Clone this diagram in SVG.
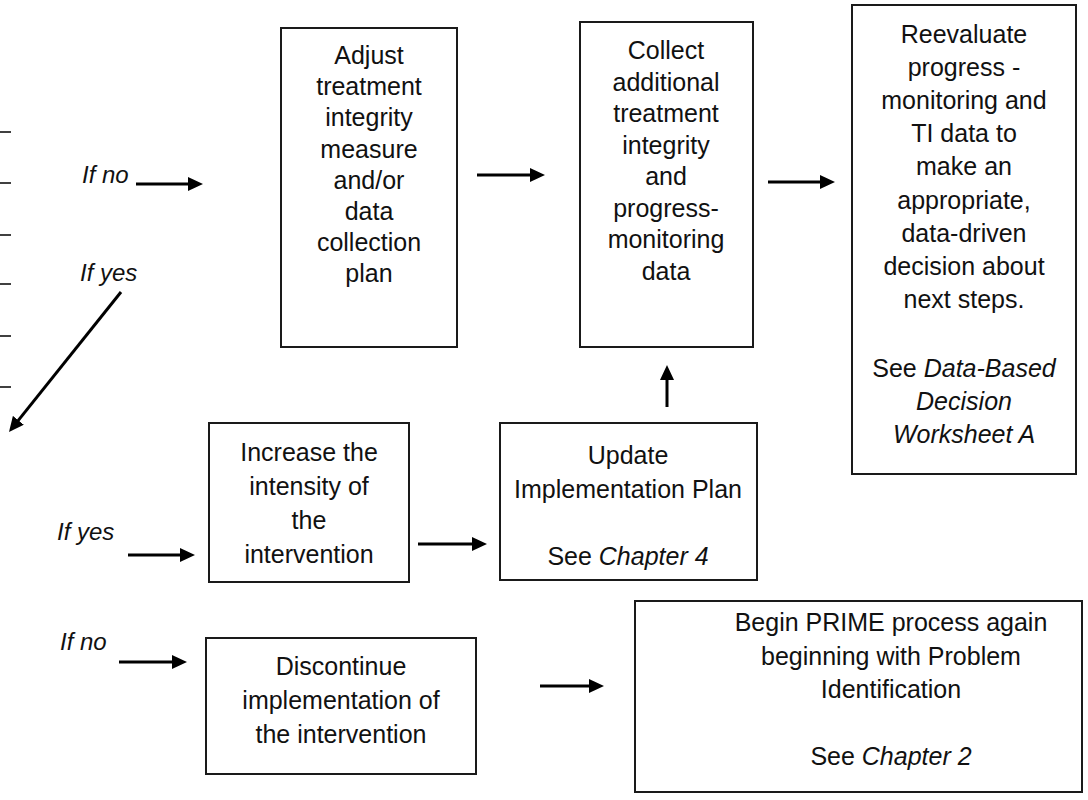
<svg xmlns="http://www.w3.org/2000/svg" width="1088" height="800" viewBox="0 0 1088 800">
<style>
.box{fill:#fff;stroke:#1a1a1a;stroke-width:2}
.t{font-family:"Liberation Sans",Arial,sans-serif;font-size:25px;fill:#111;text-anchor:middle}
.i{font-style:italic}
.lbl{font-family:"Liberation Sans",Arial,sans-serif;font-size:24px;font-style:italic;fill:#111}
.arr{stroke:#000;stroke-width:3;fill:none;marker-end:url(#ah)}
.tick{stroke:#000;stroke-width:1.5}
</style>
<defs>
<marker id="ah" viewBox="0 0 15 14" refX="3" refY="7" markerWidth="15" markerHeight="14" markerUnits="userSpaceOnUse" orient="auto">
<path d="M0,0 L15,7 L0,14 z" fill="#000"/>
</marker>
</defs>
<rect width="1088" height="800" fill="#fff"/>
<g id="ticks">
<line class="tick" x1="0" y1="132" x2="11" y2="132"/>
<line class="tick" x1="0" y1="183" x2="11" y2="183"/>
<line class="tick" x1="0" y1="235" x2="11" y2="235"/>
<line class="tick" x1="0" y1="284" x2="11" y2="284"/>
<line class="tick" x1="0" y1="336" x2="11" y2="336"/>
<line class="tick" x1="0" y1="387" x2="11" y2="387"/>
</g>
<g id="labels">
<text class="lbl" x="82" y="183">If no</text>
<text class="lbl" x="80" y="281">If yes</text>
<text class="lbl" x="57" y="540">If yes</text>
<text class="lbl" x="60" y="650">If no</text>
</g>
<g id="connectors">
<line class="arr" x1="136" y1="184" x2="191" y2="184"/>
<line class="arr" x1="121" y1="292" x2="16.5" y2="422.6"/>
<line class="arr" x1="477" y1="175" x2="533" y2="175"/>
<line class="arr" x1="768" y1="182" x2="823" y2="182"/>
<line class="arr" x1="667" y1="407" x2="667" y2="377"/>
<line class="arr" x1="418" y1="544" x2="475" y2="544"/>
<line class="arr" x1="128" y1="555" x2="183" y2="555"/>
<line class="arr" x1="119" y1="662" x2="175" y2="662"/>
<line class="arr" x1="540" y1="686" x2="592" y2="686"/>
</g>
<g id="adjust">
<rect class="box" x="281" y="28" width="176" height="319"/>
<text class="t" x="369" y="64">Adjust</text>
<text class="t" x="369" y="95">treatment</text>
<text class="t" x="369" y="126">integrity</text>
<text class="t" x="369" y="158">measure</text>
<text class="t" x="369" y="189">and/or</text>
<text class="t" x="369" y="220">data</text>
<text class="t" x="369" y="251">collection</text>
<text class="t" x="369" y="282">plan</text>
</g>
<g id="collect">
<rect class="box" x="580" y="22" width="173" height="325"/>
<text class="t" x="666" y="59">Collect</text>
<text class="t" x="666" y="90.5">additional</text>
<text class="t" x="666" y="122">treatment</text>
<text class="t" x="666" y="153.5">integrity</text>
<text class="t" x="666" y="185">and</text>
<text class="t" x="666" y="216.5">progress-</text>
<text class="t" x="666" y="248">monitoring</text>
<text class="t" x="666" y="279.5">data</text>
</g>
<g id="reevaluate">
<rect class="box" x="852" y="5" width="224" height="469"/>
<text class="t" x="964" y="43">Reevaluate</text>
<text class="t" x="964" y="76">progress -</text>
<text class="t" x="964" y="109">monitoring and</text>
<text class="t" x="964" y="142">TI data to</text>
<text class="t" x="964" y="175">make an</text>
<text class="t" x="964" y="209">appropriate,</text>
<text class="t" x="964" y="242">data-driven</text>
<text class="t" x="964" y="275">decision about</text>
<text class="t" x="964" y="308">next steps.</text>
<text class="t" x="964" y="377">See <tspan class="i">Data-Based</tspan></text>
<text class="t i" x="964" y="410">Decision</text>
<text class="t i" x="964" y="443">Worksheet A</text>
</g>
<g id="update">
<rect class="box" x="500" y="423" width="257" height="157"/>
<text class="t" x="628" y="464">Update</text>
<text class="t" x="628" y="498">Implementation Plan</text>
<text class="t" x="628" y="565">See <tspan class="i">Chapter 4</tspan></text>
</g>
<g id="increase">
<rect class="box" x="209" y="423" width="200" height="159"/>
<text class="t" x="309" y="461">Increase the</text>
<text class="t" x="309" y="495">intensity of</text>
<text class="t" x="309" y="529">the</text>
<text class="t" x="309" y="563">intervention</text>
</g>
<g id="discontinue">
<rect class="box" x="206" y="638" width="270" height="136"/>
<text class="t" x="341" y="675">Discontinue</text>
<text class="t" x="341" y="709">implementation of</text>
<text class="t" x="341" y="743">the intervention</text>
</g>
<g id="begin">
<rect class="box" x="635" y="601" width="447" height="191"/>
<text class="t" x="891" y="631">Begin PRIME process again</text>
<text class="t" x="891" y="665">beginning with Problem</text>
<text class="t" x="891" y="698">Identification</text>
<text class="t" x="891" y="765">See <tspan class="i">Chapter 2</tspan></text>
</g>
</svg>
